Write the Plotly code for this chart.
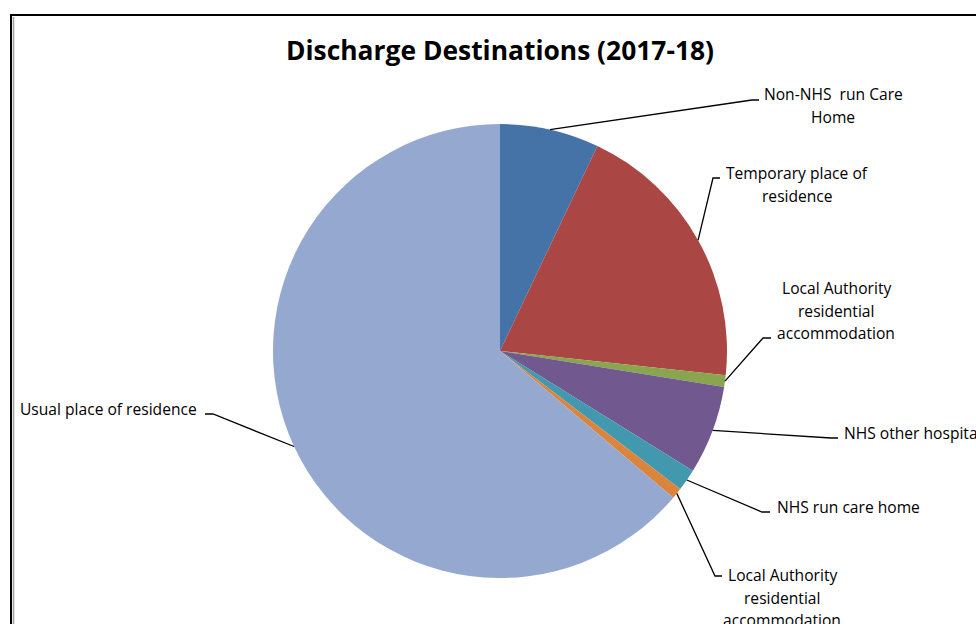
import math
import plotly.graph_objects as go

# ---- data ----
categories = [
    "Non-NHS  run Care Home",
    "Temporary place of residence",
    "Local Authority residential accommodation",
    "NHS other hospital",
    "NHS run care home",
    "Local Authority residential accommodation ",
    "Usual place of residence",
]
label_lines = [
    ["Non-NHS&nbsp; run Care", "Home"],
    ["Temporary place of", "residence"],
    ["Local Authority", "residential", "accommodation"],
    ["NHS other hospital"],
    ["NHS run care home"],
    ["Local Authority", "residential", "accommodation"],
    ["Usual place of residence"],
]
values = [7.06, 19.64, 0.83, 6.31, 1.56, 0.78, 63.82]
colors = ["#4572A7", "#AA4643", "#89A54E", "#71588F", "#4198AF", "#DB843D", "#95A9D0"]
title = "Discharge Destinations (2017-18)"

# ---- layout constants (pixels) ----
W, H = 976, 624
CX, CY, R = 500, 351, 227
FONT = "Open Sans"
# per label: elbow point, tick end x, text x, first line y, xanchor
label_layout = [
    ((752, 100), 759, 833, 94, "center"),
    ((713, 178), 720, 797, 173, "center"),
    ((763, 338), 771, 836, 288, "center"),
    ((831, 438), 838, 842, 433, "left"),
    ((762, 512), 770, 775, 507, "left"),
    ((715, 576), 722, 782, 575, "center"),
    ((213, 414), 205, 199, 409, "right"),
]
LINE_H = 22.5


def px(x):
    return x / W


def py(y):
    return 1 - y / H


fig = go.Figure(
    go.Pie(
        labels=categories,
        values=values,
        sort=False,
        direction="clockwise",
        rotation=0,
        marker=dict(colors=colors, line=dict(width=0)),
        textinfo="none",
        hovertemplate="%{label}: %{value}<extra></extra>",
        domain=dict(x=[px(CX - R), px(CX + R)], y=[py(CY + R), py(CY - R)]),
        showlegend=False,
    )
)

shapes = []
annotations = []
total = sum(values)
cum = 0.0
for i, v in enumerate(values):
    mid = (cum + v / 2) / total * 2 * math.pi
    cum += v
    ax = CX + R * math.sin(mid)
    ay = CY - R * math.cos(mid)
    (ex, ey), tx, textx, ty, xanch = label_layout[i]
    path = f"M {px(ax)},{py(ay)} L {px(ex)},{py(ey)} L {px(tx)},{py(ey)}"
    shapes.append(dict(type="path", xref="paper", yref="paper", path=path,
                       line=dict(color="black", width=1.3)))
    for k, line in enumerate(label_lines[i]):
        annotations.append(dict(
            x=px(textx), y=py(ty + k * LINE_H), xref="paper", yref="paper",
            text=line, showarrow=False, xanchor=xanch, yanchor="middle",
            font=dict(family=FONT, size=15.6, color="black"),
        ))

annotations.append(dict(
    x=px(500), y=py(50), xref="paper", yref="paper", text=f"<b>{title}</b>",
    showarrow=False, xanchor="center", yanchor="middle",
    font=dict(family=FONT, size=26.4, color="black"),
))

# chart border
shapes.append(dict(type="rect", xref="paper", yref="paper",
                   x0=px(11), x1=px(W + 20), y0=py(H + 20), y1=py(15),
                   line=dict(color="black", width=2)))
shapes.append(dict(type="line", xref="paper", yref="paper",
                   x0=px(13.5), x1=px(13.5), y0=py(H), y1=py(17),
                   line=dict(color="#A0A0A0", width=1.5)))

fig.update_layout(
    width=W, height=H,
    margin=dict(l=0, r=0, t=0, b=0),
    paper_bgcolor="white", plot_bgcolor="white",
    shapes=shapes, annotations=annotations,
)
fig.write_html(
    "out.html",
    config={"displayModeBar": False},
    post_script="document.body.style.margin='0';document.body.style.overflow='hidden';",
)
